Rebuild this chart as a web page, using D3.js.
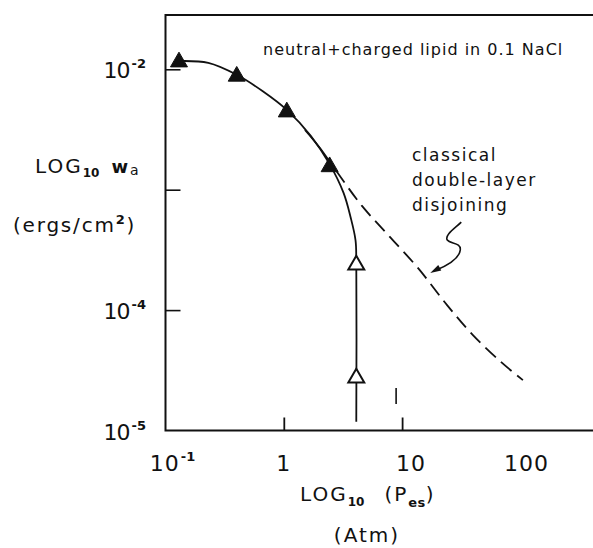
<!DOCTYPE html>
<html>
<head>
<meta charset="utf-8">
<script src="https://cdn.jsdelivr.net/npm/d3@7"></script>
<style>
  html, body { margin: 0; padding: 0; background: #fff; }
  svg { display: block; }
  text { font-family: "DejaVu Sans", sans-serif; fill: #111; }
</style>
</head>
<body>
<script>
// Pressure (atm) and adhesion energy (ergs/cm^2), log-log
const filledX = [0.13, 0.40, 1.06, 2.44];
const filledY = [0.0115, 0.00875, 0.00442, 0.00155];

const openX = [4.1, 4.1];
const openY = [2.37e-4, 2.73e-5];

// measured curve through the points, ending in a vertical drop
const solidX = [0.13, 0.23, 0.40, 0.66, 1.06, 1.69, 2.44, 3.2, 3.67, 4.04, 4.1, 4.1];
const solidY = [0.0117, 0.0113, 0.0090, 0.0066, 0.0046, 0.0028, 0.00163, 9.4e-4, 5.9e-4, 3.8e-4, 2.5e-4, 1.18e-5];

// classical double-layer disjoining prediction
const dashX = [1.51, 2.02, 2.82, 4.58, 7.60, 13.6, 24.0, 39.7, 70, 105];
const dashY = [0.00313, 0.00222, 0.00140, 7.33e-4, 4.21e-4, 2.24e-4, 1.10e-4, 6.2e-5, 3.64e-5, 2.62e-5];

// short vertical marker near P = 9 atm
const markX = [8.9, 8.9];
const markY = [1.66e-5, 2.25e-5];

// arrow tip of the annotation
const arrowTipX = 17.3;
const arrowTipY = 2.03e-4;

const xTickValues = [1, 10];
const yTickValues = [1e-2, 1e-3, 1e-4];
const xLabelValues = [0.1, 1, 10, 100];
const xLabelBase = ["10", "1", "10", "100"];
const xLabelExp = ["-1", "", "", ""];
const yLabelValues = [1e-2, 1e-4, 1e-5];
const yLabelBase = ["10", "10", "10"];
const yLabelExp = ["-2", "-4", "-5"];

const W = 593, H = 548;
const decade = 118.3;
const x = d3.scaleLog().domain([0.1, 1000]).range([165.5, 165.5 + 4 * decade]);
const y = d3.scaleLog().domain([1e-5, Math.pow(10, -1.55)]).range([430.5, 15.1]);

const svg = d3.select("body").append("svg").attr("width", W).attr("height", H);

const ink = "#111";
const x0 = x(0.1), yB = y(1e-5), yT = y(Math.pow(10, -1.55)), xR = x(1000);

// frame: left, top, bottom (open to the right)
const frame = svg.append("g").attr("stroke", ink).attr("stroke-width", 2).attr("fill", "none");
frame.append("path").attr("d", `M${xR},${yT}H${x0}V${yB}H${xR}`);

// inward ticks
const yAxis = d3.axisLeft(y).tickValues(yTickValues).tickSize(-15).tickFormat("");
svg.append("g").attr("transform", `translate(${x0},0)`).call(yAxis)
  .call(g => g.select(".domain").remove())
  .call(g => g.selectAll("line").attr("stroke", ink).attr("stroke-width", 1.6));
const xAxis = d3.axisBottom(x).tickValues(xTickValues).tickSize(-13).tickFormat("");
svg.append("g").attr("transform", `translate(0,${yB})`).call(xAxis)
  .call(g => g.select(".domain").remove())
  .call(g => g.selectAll("line").attr("stroke", ink).attr("stroke-width", 1.8));

// tick labels
const yLab = svg.append("g");
yLabelValues.forEach((v, i) => {
  const t = yLab.append("text").attr("x", 146).attr("y", y(v) + 9)
    .attr("text-anchor", "end");
  t.append("tspan").attr("font-size", 22).attr("letter-spacing", -1).text(yLabelBase[i]);
  t.append("tspan").attr("font-size", 13).attr("dy", -10).attr("dx", 2).attr("font-weight", "bold").text(yLabelExp[i]);
});
const xNudge = [7, 0, 9, 6];
const xLab = svg.append("g");
xLabelValues.forEach((v, i) => {
  const t = xLab.append("text").attr("x", x(v) + xNudge[i]).attr("y", 471)
    .attr("text-anchor", "middle");
  t.append("tspan").attr("font-size", 22).attr("letter-spacing", 1).text(xLabelBase[i]);
  if (xLabelExp[i]) {
    t.append("tspan").attr("font-size", 13).attr("dy", -10).attr("dx", 1).attr("font-weight", "bold").text(xLabelExp[i]);
  }
});

// axis titles
const yt1 = svg.append("text").attr("x", 35).attr("y", 173).attr("font-size", 20).attr("letter-spacing", 2);
yt1.append("tspan").text("LOG");
yt1.append("tspan").attr("font-size", 12).attr("dy", 4).attr("letter-spacing", 0).attr("font-weight", "bold").text("10");
yt1.append("tspan").attr("dy", -4).attr("dx", 12).attr("font-weight", "bold").attr("font-size", 18).text("w");
yt1.append("tspan").attr("dy", 2).attr("font-size", 14).attr("letter-spacing", 0).text("a");

const yt2 = svg.append("text").attr("x", 13).attr("y", 232).attr("font-size", 20).attr("letter-spacing", 1.8);
yt2.append("tspan").text("(ergs/cm");
yt2.append("tspan").attr("font-size", 13).attr("dy", -8).attr("font-weight", "bold").text("2");
yt2.append("tspan").attr("dy", 8).text(")");

const xt1 = svg.append("text").attr("x", 300).attr("y", 501).attr("font-size", 20).attr("letter-spacing", 2);
xt1.append("tspan").text("LOG");
xt1.append("tspan").attr("font-size", 12).attr("dy", 5).attr("letter-spacing", 0).attr("font-weight", "bold").text("10");
xt1.append("tspan").attr("dy", -5).attr("dx", 20).text("(P");
xt1.append("tspan").attr("font-size", 13).attr("dy", 6).attr("letter-spacing", 0.5).attr("font-weight", "bold").text("es");
xt1.append("tspan").attr("dy", -6).text(")");

svg.append("text").attr("x", 367).attr("y", 542).attr("font-size", 20).attr("letter-spacing", 2)
  .attr("text-anchor", "middle").text("(Atm)");

// annotations
svg.append("text").attr("x", 263).attr("y", 55).attr("font-size", 16).attr("letter-spacing", 1)
  .text("neutral+charged lipid in 0.1 NaCl");
const note = svg.append("text").attr("font-size", 17).attr("letter-spacing", 1.5);
["classical", "double-layer", "disjoining"].forEach((s, i) => {
  note.append("tspan").attr("x", 412).attr("y", 161 + i * 25).text(s);
});

// curves
const line = d3.line().x(d => x(d[0])).y(d => y(d[1])).curve(d3.curveCatmullRom.alpha(0.5));

svg.append("path").datum(solidX.map((v, i) => [v, solidY[i]]))
  .attr("d", line).attr("fill", "none").attr("stroke", ink).attr("stroke-width", 1.8);

const dashPath = svg.append("path").datum(dashX.map((v, i) => [v, dashY[i]]))
  .attr("d", line).attr("fill", "none").attr("stroke", ink).attr("stroke-width", 1.8);
const dashes = [46, 6];
for (let k = 0; k < 40; k++) dashes.push(14, 7);
dashPath.attr("stroke-dasharray", dashes.join(","));

svg.append("path").datum(markX.map((v, i) => [v, markY[i]]))
  .attr("d", d3.line().x(d => x(d[0])).y(d => y(d[1])))
  .attr("stroke", ink).attr("stroke-width", 1.6);

// squiggle arrow pointing at the dashed curve
const ax = x(arrowTipX), ay = y(arrowTipY);
const arrow = svg.append("g").attr("transform", `translate(${ax},${ay})`);
arrow.append("path")
  .attr("d", "M31,-51 C25,-45 14,-38 17,-33 C20,-29 31,-31 30,-23 C29,-15 18,-8 6,-3")
  .attr("fill", "none").attr("stroke", ink).attr("stroke-width", 1.6);
arrow.append("path").attr("d", "M0,0 L11,-2.6 L8,-8 Z").attr("fill", ink);

// markers
const tri = d3.symbol().type(d3.symbolTriangle).size(125);
svg.append("g").selectAll("path").data(filledX.map((v, i) => [v, filledY[i]])).join("path")
  .attr("d", tri).attr("transform", d => `translate(${x(d[0])},${y(d[1])})`)
  .attr("fill", ink).attr("stroke", ink).attr("stroke-width", 1);
svg.append("g").selectAll("path").data(openX.map((v, i) => [v, openY[i]])).join("path")
  .attr("d", d3.symbol().type(d3.symbolTriangle).size(110))
  .attr("transform", d => `translate(${x(d[0])},${y(d[1])})`)
  .attr("fill", "#fff").attr("stroke", ink).attr("stroke-width", 2);
</script>
</body>
</html>
